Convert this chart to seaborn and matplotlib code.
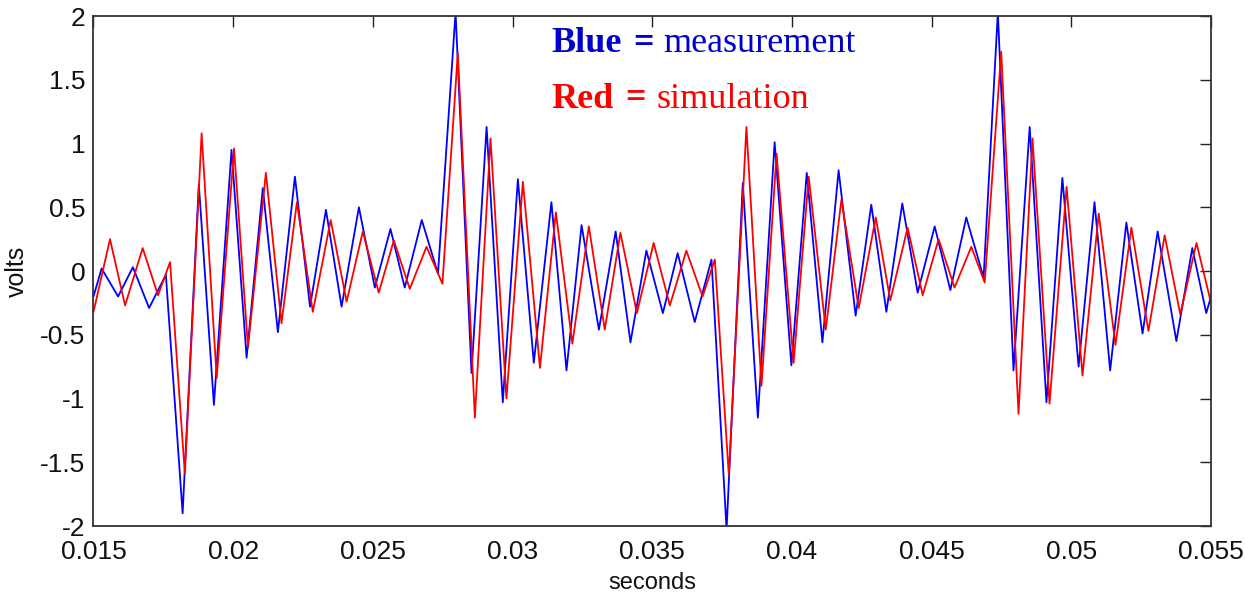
import numpy as np
import pandas as pd
import matplotlib
matplotlib.use("Agg")
import matplotlib.pyplot as plt
import seaborn as sns
from matplotlib import font_manager
from matplotlib.ticker import FormatStrFormatter

# ---- data (extrema of each oscillation) ----
meas_t = [0.01500, 0.01529, 0.01588, 0.01641, 0.01699, 0.01759, 0.01819, 0.01877,
          0.01931, 0.01994, 0.02048, 0.02106, 0.02160, 0.02221, 0.02275, 0.02332,
          0.02388, 0.02450, 0.02507, 0.02563, 0.02614, 0.02675, 0.02733, 0.02796,
          0.02853, 0.02907, 0.02965, 0.03019, 0.03076, 0.03139, 0.03193, 0.03247,
          0.03309, 0.03369, 0.03422, 0.03479, 0.03538, 0.03591, 0.03652, 0.03712,
          0.03766, 0.03824, 0.03878, 0.03938, 0.03998, 0.04053, 0.04109, 0.04167,
          0.04228, 0.04284, 0.04338, 0.04395, 0.04450, 0.04511, 0.04567, 0.04624,
          0.04686, 0.04737, 0.04793, 0.04851, 0.04911, 0.04968, 0.05026, 0.05083,
          0.05139, 0.05197, 0.05255, 0.05309, 0.05376, 0.05433, 0.05483, 0.05500]
meas_v = [-0.20, 0.02, -0.20, 0.03, -0.29, -0.03, -1.90, 0.68,
          -1.05, 0.95, -0.68, 0.65, -0.48, 0.74, -0.28, 0.48,
          -0.28, 0.50, -0.13, 0.33, -0.13, 0.40, -0.02, 2.03,
          -0.80, 1.13, -1.03, 0.72, -0.72, 0.54, -0.78, 0.36,
          -0.46, 0.31, -0.56, 0.16, -0.33, 0.14, -0.40, 0.09,
          -2.03, 0.69, -1.15, 1.01, -0.74, 0.77, -0.56, 0.79,
          -0.35, 0.52, -0.32, 0.53, -0.17, 0.35, -0.15, 0.42,
          -0.05, 2.03, -0.78, 1.13, -1.03, 0.73, -0.75, 0.54,
          -0.78, 0.38, -0.49, 0.31, -0.55, 0.18, -0.33, -0.20]

sim_t = [0.01500, 0.01559, 0.01613, 0.01676, 0.01731, 0.01774, 0.01827, 0.01887,
         0.01941, 0.02003, 0.02053, 0.02117, 0.02173, 0.02228, 0.02285, 0.02349,
         0.02406, 0.02464, 0.02521, 0.02575, 0.02632, 0.02692, 0.02749, 0.02804,
         0.02865, 0.02921, 0.02978, 0.03037, 0.03098, 0.03155, 0.03214, 0.03273,
         0.03330, 0.03386, 0.03445, 0.03505, 0.03563, 0.03622, 0.03680, 0.03724,
         0.03774, 0.03837, 0.03891, 0.03945, 0.04006, 0.04060, 0.04121, 0.04177,
         0.04239, 0.04300, 0.04352, 0.04414, 0.04468, 0.04525, 0.04582, 0.04642,
         0.04690, 0.04749, 0.04811, 0.04861, 0.04922, 0.04983, 0.05040, 0.05098,
         0.05158, 0.05215, 0.05276, 0.05334, 0.05390, 0.05448, 0.05500]
sim_v = [-0.32, 0.25, -0.27, 0.18, -0.19, 0.07, -1.59, 1.08,
         -0.84, 0.96, -0.60, 0.77, -0.41, 0.54, -0.32, 0.40,
         -0.24, 0.31, -0.17, 0.24, -0.14, 0.19, -0.10, 1.71,
         -1.15, 1.04, -1.00, 0.70, -0.76, 0.46, -0.57, 0.35,
         -0.46, 0.30, -0.33, 0.22, -0.27, 0.16, -0.20, 0.09,
         -1.60, 1.13, -0.90, 0.92, -0.72, 0.74, -0.46, 0.56,
         -0.29, 0.42, -0.23, 0.34, -0.19, 0.25, -0.13, 0.19,
         -0.09, 1.72, -1.12, 1.04, -1.04, 0.66, -0.82, 0.45,
         -0.58, 0.34, -0.47, 0.28, -0.34, 0.22, -0.25]

x_ticks = [0.015, 0.02, 0.025, 0.03, 0.035, 0.04, 0.045, 0.05, 0.055]
y_ticks = [-2, -1.5, -1, -0.5, 0, 0.5, 1, 1.5, 2]

# ---- style ----
sns.set_style("white")
names = {f.name for f in font_manager.fontManager.ttflist}
tick_font = "Liberation Sans Narrow" if "Liberation Sans Narrow" in names else "Liberation Sans"
plt.rcParams["font.family"] = [tick_font, "DejaVu Sans"]
plt.rcParams["axes.unicode_minus"] = False

fig = plt.figure(figsize=(12.45, 5.98), dpi=100)
ax = fig.add_axes([0.0751, 0.1204, 0.8976, 0.8528])

meas = pd.DataFrame({"t": meas_t, "v": meas_v})
sim = pd.DataFrame({"t": sim_t, "v": sim_v})
sns.lineplot(data=meas, x="t", y="v", ax=ax, color="#0000FF", linewidth=1.3,
             sort=False, estimator=None, solid_joinstyle="round")
sns.lineplot(data=sim, x="t", y="v", ax=ax, color="#FF0000", linewidth=1.3,
             sort=False, estimator=None, solid_joinstyle="round")

ax.set_xlim(0.015, 0.055)
ax.set_ylim(-2, 2)
ax.set_xticks(x_ticks)
ax.set_yticks(y_ticks)
ax.xaxis.set_major_formatter(FormatStrFormatter("%g"))
ax.yaxis.set_major_formatter(FormatStrFormatter("%g"))
ax.tick_params(direction="in", length=8, width=1.0, color="#222222",
               top=True, right=True, labelsize=19, labelcolor="#111111")
ax.tick_params(axis="x", pad=10)
ax.tick_params(axis="y", pad=6)
for s in ax.spines.values():
    s.set_linewidth(1.3)
    s.set_color("#333333")

ax.set_xlabel("seconds", fontsize=17, labelpad=6, color="#111111")
ax.set_ylabel("volts", fontsize=18, labelpad=8, color="#111111")

# ---- annotation text (Times-like serif) ----
W, H = 1245, 598
serif = ["Liberation Serif", "DejaVu Serif"]
def ftxt(px, py, s, color, bold):
    fig.text(px / W, 1 - py / H, s, color=color, fontsize=26, family=serif,
             fontweight="bold" if bold else "normal", va="baseline", ha="left")

ftxt(551.7, 51.7, "Blue", "#0000CC", True)
ftxt(633, 51.7, "=", "#0000CC", True)
ftxt(663, 51.7, "measurement", "#0000CC", False)
ftxt(551.7, 107.5, "Red", "#FF0000", True)
ftxt(625, 107.5, "=", "#FF0000", True)
ftxt(656.7, 107.5, "simulation", "#FF0000", False)

fig.savefig("out.png", dpi=100, facecolor="white")
